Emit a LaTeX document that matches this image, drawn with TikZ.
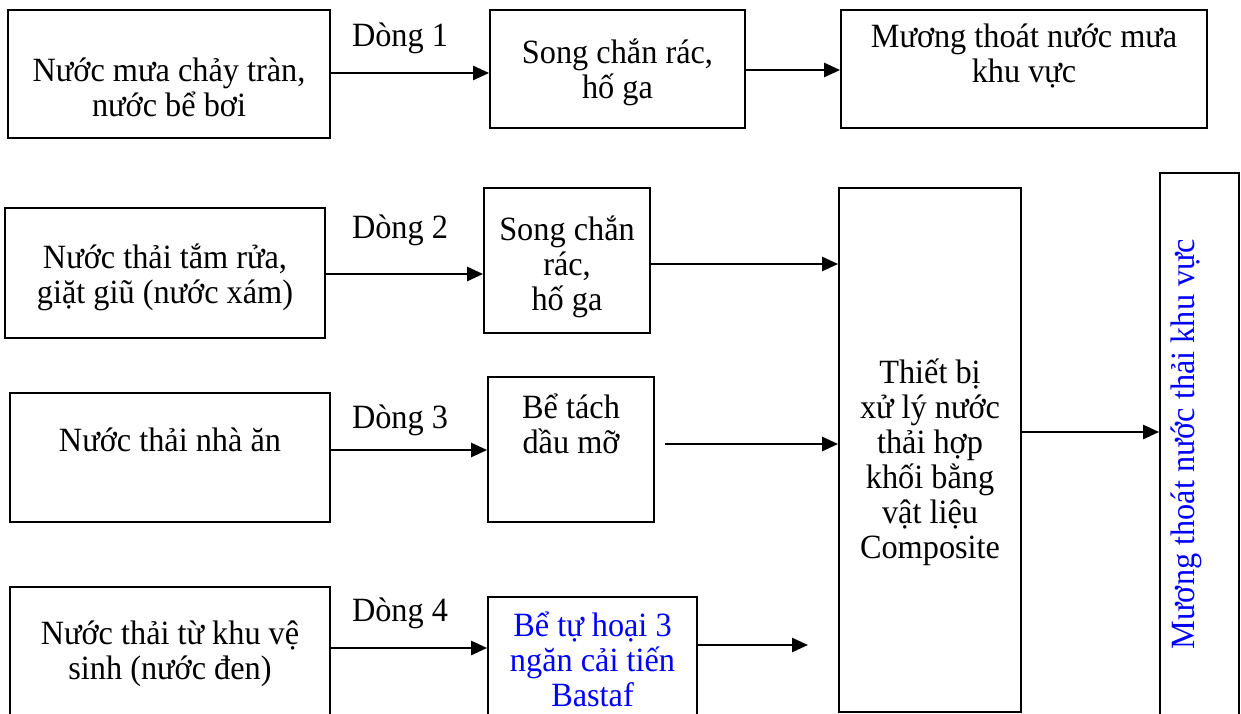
\documentclass[tikz,border=0pt]{standalone}
\usepackage{fontspec}
\setmainfont{Liberation Serif}[FakeStretch=0.95]
\usetikzlibrary{arrows.meta}
\definecolor{txtblue}{RGB}{0,0,255}
\tikzset{
  box/.style={draw, line width=1.8pt},
  txt/.style={align=center, inner sep=0pt, font=\fontsize{34}{35}\selectfont},
  arr/.style={line width=2.6pt, -{Triangle[length=16pt,width=14pt]}},
  mk/.style args={#1/#2}{box, minimum width=#1pt, minimum height=#2pt, inner sep=0pt},
}
\begin{document}
\begin{tikzpicture}[x=1pt,y=-1pt]
\fill[white] (0,0) rectangle (1241,714);
\clip (0,0) rectangle (1241,714);
% boxes
\node[mk=322/128] (A1) at (169,74) {};
\node[mk=255/118] (B1) at (617.5,69) {};
\node[mk=366/118] (C1) at (1024,69) {};
\node[mk=320/130] (A2) at (165,273) {};
\node[mk=166/145] (B2) at (567,260.5) {};
\node[mk=320/129] (A3) at (170,457.5) {};
\node[mk=166/145] (B3) at (571,449.5) {};
\node[mk=320/150] (A4) at (170,662) {};
\node[mk=209/140] (B4) at (592.5,667) {};
\node[mk=182/524] (T) at (930,450) {};
\node[mk=79/560] (R) at (1199.5,453) {};
% texts
\node[txt] (tA1) at (169,87.5) {Nước mưa chảy tràn,\\nước bể bơi};
\node[txt] (tB1) at (617.5,72) {Song chắn rác,\\hố ga};
\node[txt] (tC1) at (1024,56) {Mương thoát nước mưa\\khu vực};
\node[txt] (tA2) at (165,277) {Nước thải tắm rửa,\\giặt giũ (nước xám)};
\node[txt] (tB2) at (567,267) {Song chắn\\rác,\\hố ga};
\node[txt] (tA3) at (170,440) {Nước thải nhà ăn};
\node[txt] (tB3) at (571,424) {Bể tách\\dầu mỡ};
\node[txt] (tA4) at (170,654) {Nước thải từ khu vệ\\sinh (nước đen)};
\node[txt, text=txtblue] (tB4) at (592.5,659) {Bể tự hoại 3\\ngăn cải tiến\\Bastaf};
\node[txt] (tT) at (930,462) {Thiết bị\\xử lý nước\\thải hợp\\khối bằng\\vật liệu\\Composite};
\node[txt, text=txtblue, rotate=90] (tR) at (1186,444) {Mương thoát nước thải khu vực};
\node[txt] (d1) at (400,38) {Dòng 1};
\node[txt] (d2) at (400,230) {Dòng 2};
\node[txt] (d3) at (400,420) {Dòng 3};
\node[txt] (d4) at (400,613) {Dòng 4};
% connectors
\draw[arr] (A1.east |- 0,73) -- (B1.west |- 0,73);
\draw[arr] (B1.east |- 0,70) -- (C1.west |- 0,70);
\draw[arr] (A2.east |- 0,274) -- (B2.west |- 0,274);
\draw[arr] (B2.east |- 0,264) -- (T.west |- 0,264);
\draw[arr] (A3.east |- 0,450) -- (B3.west |- 0,450);
\coordinate (s3) at (665,444);
\draw[arr] (s3) -- (T.west |- s3);
\draw[arr] (A4.east |- 0,648) -- (B4.west |- 0,648);
\coordinate (e4) at (808,645);
\draw[arr] (B4.east |- e4) -- (e4);
\draw[arr] (T.east |- 0,432) -- (R.west |- 0,432);
\end{tikzpicture}
\end{document}
